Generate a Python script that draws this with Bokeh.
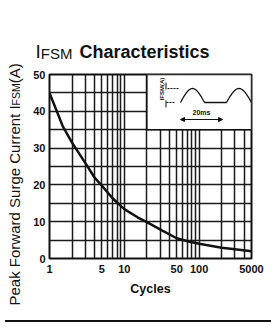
import numpy as np
from bokeh.plotting import figure
from bokeh.models import Range1d, FixedTicker, Label, Arrow, NormalHead, Div
from bokeh.layouts import column, row
from bokeh.embed import file_html
from bokeh.resources import INLINE

# ---- data ----
cycles = [1, 1.5, 2, 3, 4, 5, 7, 10, 15, 20, 30, 50, 70, 100, 200, 300, 500]
ifsm = [45, 36, 31.5, 26, 22, 19.8, 16.3, 13.4, 11.2, 9.9, 7.9, 5.5, 4.7, 4.0, 2.9, 2.5, 2.0]

x_tick_values = [1, 5, 10, 50, 100, 500]
x_tick_labels = {500: "5000"}
x_grid_values = [1, 2, 3, 4, 5, 6, 7, 8, 9, 10, 20, 30, 40, 50, 60, 70, 80, 90, 100, 200, 300, 400, 500]
y_tick_values = [0, 10, 20, 30, 40, 50]
y_grid_values = [0, 5, 10, 15, 20, 25, 30, 35, 40, 45, 50]
inset_box = dict(left=20, right=500, bottom=35, top=50)

title_main = "Characteristics"
title_sym, title_sub = "I", "FSM"
ylabel_parts = ["Peak Forward Surge Current ", "I", "FSM", " (A)"]
xlabel = "Cycles"

FONT = "Liberation Sans"
INK = "#111111"

# ---- layout geometry (page pixels) ----
LSTRIP = 28            # width of the left strip holding the y label
FRAME_L, FRAME_T = 49, 74
FW, FH = 202, 184
TOTAL_W, BOTTOM = 271, 315
DEC = FW / np.log10(500.0)
MID = 0.35             # em-box middle above the baseline (fraction of size)


def fx(px):  # page px -> data x (main plot)
    return 10 ** ((px - FRAME_L) / DEC)


def fy(py):  # page py -> data y (main plot)
    return 50 - (py - FRAME_T) * 50.0 / FH


REG = {' ': 278, '(': 333, ')': 333, 'A': 667, 'C': 722, 'F': 611, 'I': 278, 'M': 833, 'P': 667,
       'S': 667, 'a': 556, 'c': 500, 'd': 556, 'e': 556, 'g': 556, 'k': 500, 'n': 556, 'o': 556,
       'r': 333, 't': 278, 'u': 556, 'w': 722, 's': 500, 'h': 556, 'i': 222, 'l': 222, 'y': 500}
BOLD = {' ': 278, 'C': 722, 'h': 611, 'a': 556, 'r': 389, 'c': 556, 't': 333, 'e': 556, 'i': 278,
        's': 556, 'I': 278, 'F': 611, 'S': 667, 'M': 833}


def tw(text, size, bold=False):
    tab = BOLD if bold else REG
    return sum(tab.get(c, 556) for c in text) * size / 1000.0


def blank(x0, x1, y0, y1):
    """A bare figure whose data coords equal page pixels (y downward)."""
    f = figure(frame_width=int(x1 - x0), frame_height=int(y1 - y0),
               x_range=Range1d(x0, x1), y_range=Range1d(y1, y0),
               min_border=0, x_axis_location=None, y_axis_location=None,
               output_backend="svg", toolbar_location=None, frame_align=False,
               background_fill_color="white", border_fill_color="white")
    f.outline_line_color = None
    f.grid.visible = False
    return f


# ---- main plot ----
MAIN_W = TOTAL_W - LSTRIP
p = figure(x_axis_type="log", x_range=Range1d(1, 500), y_range=Range1d(0, 50),
           frame_width=FW, frame_height=FH,
           min_border_left=FRAME_L - LSTRIP, min_border_top=8,
           min_border_right=MAIN_W - (FRAME_L - LSTRIP) - FW,
           min_border_bottom=BOTTOM - (FRAME_T + FH), frame_align=False,
           output_backend="svg", toolbar_location=None,
           background_fill_color="white", border_fill_color="white")

p.outline_line_color = INK
p.outline_line_width = 2
p.outline_line_alpha = 1

p.xgrid.ticker = FixedTicker(ticks=x_grid_values)
p.ygrid.ticker = FixedTicker(ticks=y_grid_values)
for g in (p.xgrid, p.ygrid):
    g.grid_line_color = "#1a1a1a"
    g.grid_line_width = 1.5
    g.grid_line_alpha = 1

p.xaxis.ticker = FixedTicker(ticks=x_tick_values)
p.xaxis.major_label_overrides = x_tick_labels
p.yaxis.ticker = FixedTicker(ticks=y_tick_values)
for ax in (p.xaxis, p.yaxis):
    ax.axis_line_color = None
    ax.major_tick_line_color = None
    ax.minor_tick_line_color = None
    ax.major_tick_out = 0
    ax.major_tick_in = 0
    ax.major_label_text_font = FONT
    ax.major_label_text_font_style = "bold"
    ax.major_label_text_font_size = "11px"
    ax.major_label_text_color = INK
p.xaxis.major_label_standoff = 6
p.yaxis.major_label_standoff = 4
p.xaxis.axis_label = xlabel
p.xaxis.axis_label_text_font = FONT
p.xaxis.axis_label_text_font_style = "bold"
p.xaxis.axis_label_text_font_size = "12.5px"
p.xaxis.axis_label_text_color = INK
p.xaxis.axis_label_standoff = 6

# inset box (covers the grid)
p.quad(fill_color="white", line_color=INK, line_width=1.5, **inset_box)

# main curve
p.line(cycles, ifsm, line_color=INK, line_width=2.5)

# ---- inset schematic ----
t = np.linspace(0, np.pi, 30)
wx = np.concatenate([180 + 24 * t / np.pi, [226], 226 + 25 * t / np.pi])
wy = np.concatenate([102 - 14 * np.sin(t), [102], 102 - 14 * np.sin(t)])
p.line([fx(v) for v in wx], [fy(v) for v in wy], line_color=INK, line_width=1.3)
p.line([fx(167), fx(178)], [fy(88), fy(88)], line_color=INK, line_width=1, line_dash="2 1")
p.line([fx(166), fx(175)], [fy(102), fy(102)], line_color=INK, line_width=1, line_dash="2 1")
p.line([fx(165.5), fx(165.5)], [fy(82), fy(89)], line_color=INK, line_width=1)
p.line([fx(165.5), fx(165.5)], [fy(100), fy(107)], line_color=INK, line_width=1)
p.add_layout(Label(x=fx(161), y=fy(88.5), text="IFSM(A)", angle=np.pi / 2, text_align="center",
                   text_baseline="middle", text_font=FONT, text_font_size="6px",
                   text_font_style="bold", text_color=INK))
p.add_layout(Label(x=fx(201), y=fy(112), text="20ms", text_align="center",
                   text_baseline="middle", text_font=FONT, text_font_size="7px",
                   text_font_style="bold", text_color=INK))
p.add_layout(Arrow(x_start=fx(180), y_start=fy(119), x_end=fx(222), y_end=fy(119),
                   start=NormalHead(size=4, fill_color=INK, line_color=INK),
                   end=NormalHead(size=4, fill_color=INK, line_color=INK),
                   line_color=INK, line_width=1))

# ---- title strip: I_FSM Characteristics ----
tf = blank(LSTRIP, TOTAL_W, 0, FRAME_T - 8)
tx, tb = 35, 58
title_parts = [(title_sym, 19, "normal", 0), (title_sub, 15, "normal", 7),
               (title_main, 18, "bold", 0)]
for txt, sz, st, gap in title_parts:
    tf.add_layout(Label(x=tx, y=tb - MID * sz, text=txt, text_font=FONT,
                        text_font_size=f"{sz}px", text_font_style=st,
                        text_baseline="middle", text_color=INK))
    tx += tw(txt, sz, st == "bold") + gap

# ---- left strip: rotated y label with small-caps subscript ----
lf = blank(0, LSTRIP, 0, BOTTOM)
ys = 305
sizes = [15, 15, 10.5, 15]
base_x = 19.5          # where the shared baseline should sit
for txt, sz in zip(ylabel_parts, sizes):
    lf.add_layout(Label(x=base_x - MID * sz, y=ys, text=txt, angle=np.pi / 2, text_font=FONT,
                        text_font_size=f"{sz}px", text_align="left",
                        text_baseline="middle", text_color=INK))
    ys -= tw(txt, sz)

rule = Div(text="", width=TOTAL_W - 4, height=2, styles={"background-color": INK})
layout = column(row(lf, column(tf, p, spacing=0), spacing=0), rule, spacing=0)

open("out.html", "w").write(file_html(layout, INLINE))
